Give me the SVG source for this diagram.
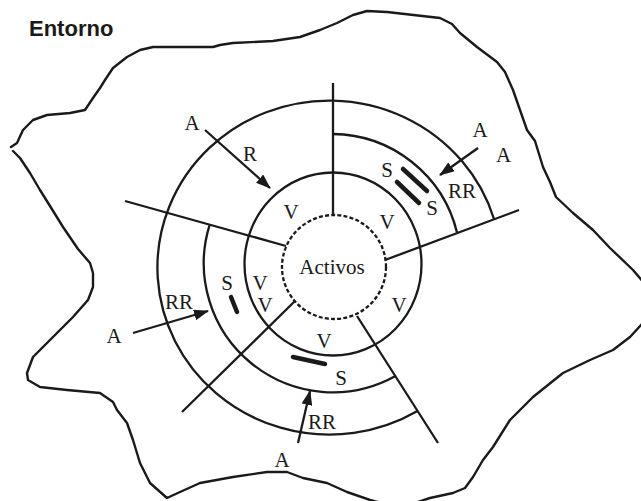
<svg xmlns="http://www.w3.org/2000/svg" width="641" height="501" viewBox="0 0 641 501">
<style>
.ln{fill:none;stroke:#1a1a1a;stroke-width:2.3;stroke-linecap:butt}
.blob{fill:none;stroke:#1a1a1a;stroke-width:2.4;stroke-linejoin:round;stroke-linecap:round}
.dash{fill:none;stroke:#1a1a1a;stroke-width:2.3;stroke-dasharray:4 2.2}
.bar{stroke:#1a1a1a;stroke-width:4.5;stroke-linecap:round}
.arr{fill:none;stroke:#1a1a1a;stroke-width:2.3;marker-end:url(#ah)}
.t{font-family:"Liberation Serif","Times New Roman",serif;font-size:21px;fill:#1a1a1a;text-anchor:middle}
.title{font-family:"Liberation Sans",Arial,sans-serif;font-size:22px;font-weight:bold;fill:#1a1a1a}
</style>
<defs>
<marker id="ah" viewBox="0 0 15 11" refX="14" refY="5.5" markerWidth="15" markerHeight="11" markerUnits="userSpaceOnUse" orient="auto">
<path d="M0,0 L15,5.5 L0,11 Z" fill="#1a1a1a"/>
</marker>
</defs>
<rect width="641" height="501" fill="#ffffff"/>
<g id="entorno">
<path class="blob" d="M11,147 L17,143 L23,130 L33,120 L47,115 L70,113 L85,110 L93,98 L100,88 L105,80 L113,68 L127,57 L140,50 L153,47 L213,47 L220,45 L233,43 L273,41 L300,37 L320,30 L337,23 L353,15 L367,11 L387,12 L440,18 L452,24 L460,33 L477,47 L497,62 L505,72 L513,90 L520,110 L527,130 L535,141 L543,167 L550,182 L556,197 L573,213 L593,230 L610,248 L633,270 L650,290 L650,315 L641,325 L630,337 L613,350 L590,360 L563,373 L533,397 L510,420 L493,447 L483,460 L473,477 L465,488 L453,493 L430,498 L400,508 L370,500 L347,492 L327,483 L303,478 L287,472 L267,472 L233,477 L200,483 L180,492 L167,498 L150,483 L140,463 L133,440 L127,423 L117,410 L113,402 L100,393 L67,390 L40,387 L28,380 L27,373 L33,357 L50,340 L73,317 L88,300 L93,287 L93,273 L90,263 L78,249 L63,227 L50,206 L40,190 L30,173 L20,158 L13,151"/>
<text class="title" x="29" y="36">Entorno</text>
</g>
<g id="rings">
<path class="ln" d="M494,219 A172,167 0 1 0 417.5,411"/>
<path class="ln" d="M333,134 A129,129 0 0 1 457,232.5"/>
<path class="ln" d="M209.5,225.3 A129,129 0 0 0 395.5,376"/>
<ellipse class="ln" cx="333" cy="264" rx="88.5" ry="91.5"/>
<line class="ln" x1="333" y1="83" x2="333" y2="214"/>
<line class="ln" x1="385" y1="260" x2="519" y2="210"/>
<line class="ln" x1="125" y1="201" x2="286" y2="246"/>
<line class="ln" x1="182" y1="412" x2="295" y2="301"/>
<line class="ln" x1="357" y1="316" x2="438" y2="443"/>
</g>
<g id="activos">
<circle class="dash" cx="334" cy="267" r="52"/>
<text class="t" x="332" y="274">Activos</text>
</g>
<g id="salvaguardas">
<line class="bar" x1="403" y1="169" x2="427" y2="191"/>
<line class="bar" x1="397" y1="182" x2="419" y2="203"/>
<line class="bar" x1="231" y1="297" x2="237" y2="312"/>
<line class="bar" x1="293" y1="357" x2="325" y2="364"/>
</g>
<g id="connectors">
<line class="arr" x1="205" y1="130" x2="270" y2="188"/>
<line class="arr" x1="478" y1="148" x2="440" y2="175"/>
<line class="arr" x1="133" y1="333" x2="208" y2="311"/>
<line class="arr" x1="298" y1="443" x2="310" y2="391"/>
</g>
<g id="labels">
<text class="t" x="192" y="130">A</text>
<text class="t" x="250" y="161">R</text>
<text class="t" x="291" y="219">V</text>
<text class="t" x="480" y="137">A</text>
<text class="t" x="503.5" y="162">A</text>
<text class="t" x="462" y="198">RR</text>
<text class="t" x="387" y="177">S</text>
<text class="t" x="432" y="215">S</text>
<text class="t" x="387" y="229">V</text>
<text class="t" x="227" y="290">S</text>
<text class="t" x="260" y="290">V</text>
<text class="t" x="265" y="312">V</text>
<text class="t" x="324" y="348">V</text>
<text class="t" x="399" y="312">V</text>
<text class="t" x="341" y="385">S</text>
<text class="t" x="179" y="309">RR</text>
<text class="t" x="114" y="343">A</text>
<text class="t" x="322" y="429">RR</text>
<text class="t" x="282" y="467">A</text>
</g>
</svg>
